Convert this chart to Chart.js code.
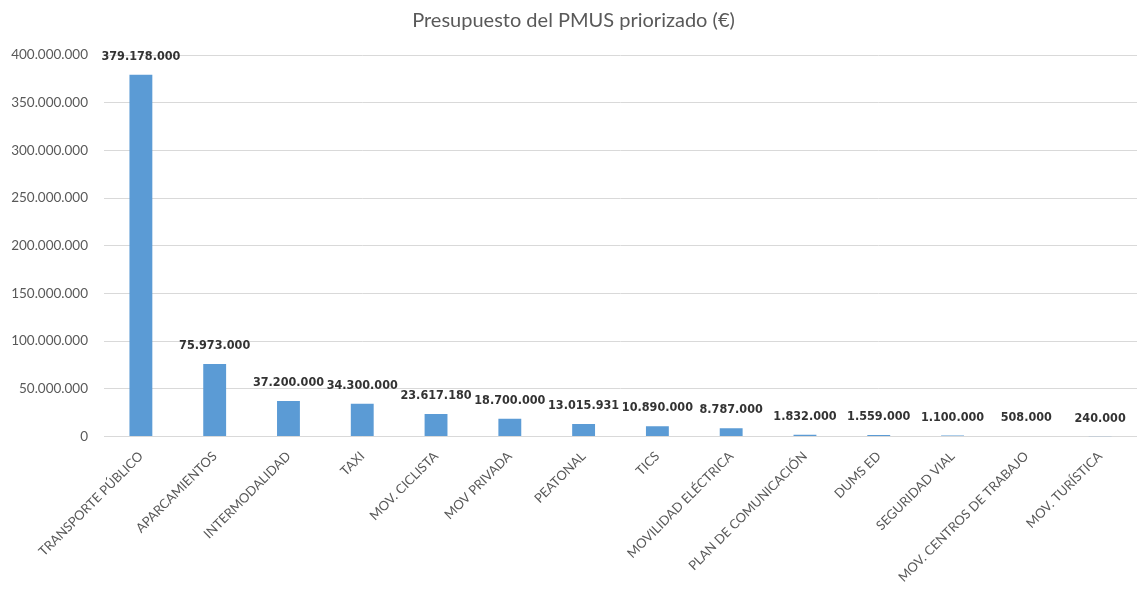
<!DOCTYPE html>
<html>
<head>
<meta charset="utf-8">
<script src="https://cdn.jsdelivr.net/npm/chart.js@4.4.1/dist/chart.umd.min.js"></script>
<style>
  body { margin: 0; background: #fff; }
  #wrap { width: 1137px; height: 599px; }
</style>
</head>
<body>
<div id="wrap"><canvas id="c"></canvas></div>
<script>
// categorias y presupuesto (euros)
var categorias = ['TRANSPORTE PÚBLICO', 'APARCAMIENTOS', 'INTERMODALIDAD', 'TAXI', 'MOV. CICLISTA',
  'MOV PRIVADA', 'PEATONAL', 'TICS', 'MOVILIDAD ELÉCTRICA', 'PLAN DE COMUNICACIÓN', 'DUMS ED',
  'SEGURIDAD VIAL', 'MOV. CENTROS DE TRABAJO', 'MOV. TURÍSTICA'];
var presupuesto = [379178000, 75973000, 37200000, 34300000, 23617180, 18700000, 13015931,
  10890000, 8787000, 1832000, 1559000, 1100000, 508000, 240000];
var ejeMin = 0, ejeMax = 400000000, ejePaso = 50000000;

function puntos(v) {
  return String(Math.round(v)).replace(/\B(?=(\d{3})+(?!\d))/g, '.');
}

// etiquetas encima de cada barra
var etiquetas = {
  id: 'etiquetas',
  afterDatasetsDraw: function(chart) {
    var ctx = chart.ctx;
    var meta = chart.getDatasetMeta(0);
    ctx.save();
    ctx.font = 'bold 12.5px "DejaVu Sans Condensed", sans-serif';
    ctx.fillStyle = '#333333';
    ctx.textAlign = 'center';
    ctx.textBaseline = 'middle';
    meta.data.forEach(function(bar, i) {
      ctx.fillText(puntos(presupuesto[i]), bar.x, bar.y - 18);
    });
    ctx.restore();
  }
};

var ctx = document.getElementById('c');
var grafico = new Chart(ctx, {
  type: 'bar',
  data: {
    labels: categorias,
    datasets: [{
      data: presupuesto,
      backgroundColor: '#5B9BD5',
      borderWidth: 0,
      categoryPercentage: 0.31,
      barPercentage: 1
    }]
  },
  plugins: [etiquetas],
  options: {
    responsive: true,
    maintainAspectRatio: false,
    animation: false,
    layout: { padding: { left: 10, right: 0, top: 9, bottom: 10 } },
    plugins: {
      legend: { display: false },
      tooltip: { enabled: false },
      title: {
        display: true,
        text: 'Presupuesto del PMUS priorizado (€)',
        color: '#595959',
        font: { family: 'Lato', size: 20, weight: 'normal' },
        padding: { top: 0, bottom: 22 }
      }
    },
    scales: {
      x: {
        grid: { display: false },
        border: { color: '#d9d9d9' },
        ticks: {
          color: '#595959',
          font: { family: 'Lato', size: 13 },
          maxRotation: 45,
          minRotation: 45,
          autoSkip: false,
          padding: 4
        }
      },
      y: {
        min: ejeMin,
        max: ejeMax,
        border: { display: false },
        grid: { color: '#d9d9d9', drawTicks: false },
        afterFit: function(s) { s.width = 94; },
        ticks: {
          stepSize: ejePaso,
          color: '#595959',
          font: { family: 'Lato', size: 13.5 },
          padding: 16,
          callback: function(v) { return puntos(v); }
        }
      }
    }
  }
});
</script>
</body>
</html>
